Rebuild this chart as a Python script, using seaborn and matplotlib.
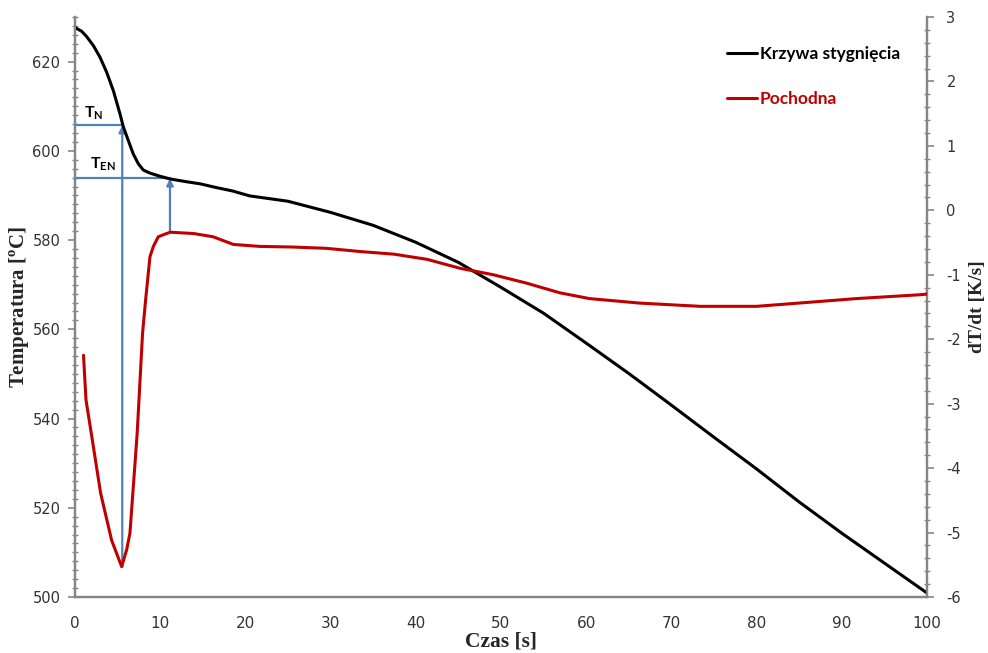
import numpy as np
import pandas as pd
import matplotlib
matplotlib.use("Agg")
import matplotlib.pyplot as plt
from matplotlib.ticker import MultipleLocator
from matplotlib.lines import Line2D
import seaborn as sns

# ---- data ----
time_T = [0, 0.12, 0.78, 1.37, 2.15, 2.93, 3.72, 4.5, 5.28, 5.67, 6.26, 6.84, 7.43, 8.02, 8.8,
          9.98, 11.15, 13, 14.7, 16.5, 18.5, 20.5, 25, 30, 35, 40, 45, 50, 55, 60, 65, 70, 75,
          80, 85, 90, 95, 100]
temp = [627.7, 627.5, 626.8, 625.6, 623.6, 621.0, 617.6, 613.5, 608.3, 605.4, 602.3, 599.3,
        597.1, 595.7, 595.0, 594.3, 593.7, 593.1, 592.6, 591.8, 591.0, 589.9, 588.7, 586.2,
        583.3, 579.5, 575.0, 569.4, 563.6, 556.9, 550.1, 543.0, 535.8, 528.7, 521.3, 514.3,
        507.6, 500.9]

time_d = [1, 1.29, 2.03, 3.01, 4.3, 5.48, 6.06, 6.45, 7.3, 7.93, 8.29, 8.8, 9.2, 9.78, 10.75,
          11.2, 13.9, 16.2, 18.6, 21.7, 25.6, 29.5, 33.5, 37.4, 41.3, 45.2, 49.1, 53, 56.9,
          60.4, 66.3, 73.4, 80, 85.9, 91.7, 99.2, 100]
deriv = [-2.25, -2.94, -3.56, -4.39, -5.12, -5.53, -5.27, -5.01, -3.46, -1.91, -1.39, -0.72,
         -0.56, -0.41, -0.36, -0.34, -0.36, -0.41, -0.53, -0.56, -0.57, -0.59, -0.64, -0.68,
         -0.76, -0.90, -1.00, -1.13, -1.28, -1.37, -1.44, -1.49, -1.49, -1.43, -1.37, -1.31,
         -1.30]

t_N, T_N, dmin = 5.55, 605.7, -5.53
t_EN, T_EN, d_EN = 11.15, 593.8, -0.34

x_ticks = list(range(0, 101, 10))
left_ticks = list(range(500, 621, 20))
right_ticks = list(range(-6, 4))

label_T = "Krzywa stygnięcia"
label_d = "Pochodna"

df_T = pd.DataFrame({"t": time_T, "T": temp})
df_d = pd.DataFrame({"t": time_d, "d": deriv})

sns.set_style("white")
plt.rcParams['font.family'] = ['DejaVu Sans']

fig = plt.figure(figsize=(9.88, 6.53), dpi=100)
ax = fig.add_axes([0.0759, 0.0858, 0.8623, 0.8882])
ax2 = ax.twinx()

blue = "#4F81BD"
red = "#C00000"
grey = "#868686"

sns.lineplot(data=df_T, x="t", y="T", ax=ax, color="black", linewidth=2.2, zorder=5)
sns.lineplot(data=df_d, x="t", y="d", ax=ax2, color=red, linewidth=2.2, zorder=5)

ax.set_xlim(0, 100)
ax.set_ylim(500, 630)
ax2.set_ylim(-6, 3)

# blue guide lines
ymin_left = 500 + (dmin + 6) * 130 / 9
ax.plot([0, t_N], [T_N, T_N], color=blue, lw=1.6, zorder=3)
ax.annotate("", xy=(t_N, T_N), xytext=(t_N, ymin_left),
            arrowprops=dict(arrowstyle="-|>", color=blue, lw=1.6, mutation_scale=10,
                            shrinkA=0, shrinkB=0), zorder=3)
yen_left = 500 + (d_EN + 6) * 130 / 9
ax.plot([0, t_EN], [T_EN, T_EN], color=blue, lw=1.6, zorder=3)
ax.annotate("", xy=(t_EN, T_EN), xytext=(t_EN, yen_left),
            arrowprops=dict(arrowstyle="-|>", color=blue, lw=1.6, mutation_scale=10,
                            shrinkA=0, shrinkB=0), zorder=3)

ax.text(1.0, 607.5, r"T$_\mathregular{N}$", fontsize=11.5, fontweight="bold",
        family=["Lato", "DejaVu Sans"], color="black")
ax.text(1.8, 596.0, r"T$_\mathregular{EN}$", fontsize=11.5, fontweight="bold",
        family=["Lato", "DejaVu Sans"], color="black")

# ticks
ax.set_xticks(x_ticks)
ax.set_yticks(left_ticks)
ax2.set_yticks(right_ticks)
ax.xaxis.set_minor_locator(MultipleLocator(1))
ax.yaxis.set_minor_locator(MultipleLocator(2))
ax2.yaxis.set_minor_locator(MultipleLocator(0.2))

ax.set_xticklabels([str(v) for v in x_ticks], family=["Liberation Sans Narrow", "DejaVu Sans"],
                   fontsize=11, color="#333333")
ax.set_yticklabels([str(v) for v in left_ticks], fontsize=10.5, color="#333333")
ax2.set_yticklabels([str(v) for v in right_ticks], fontsize=10.5, color="#333333")

ax.tick_params(axis="x", which="major", direction="in", length=5, width=1.2, color=grey, pad=14)
ax.tick_params(axis="x", which="minor", direction="in", length=3, width=1, color=grey)
ax.tick_params(axis="y", which="major", direction="out", length=5, width=1.2, color=grey, pad=5.5)
ax.tick_params(axis="y", which="minor", direction="inout", length=5, width=1, color=grey, left=True)
ax2.tick_params(axis="y", which="major", direction="out", length=5, width=1.2, color=grey, pad=9)
ax2.tick_params(axis="y", which="minor", direction="inout", length=5, width=1, color=grey, right=True)

for a in (ax, ax2):
    a.spines["top"].set_visible(False)
    for s in ("left", "right", "bottom"):
        a.spines[s].set_color(grey)
        a.spines[s].set_linewidth(1.6)

serif = ["Liberation Serif", "DejaVu Serif"]
ax.set_xlabel("Czas [s]", family=serif, fontsize=15.5, fontweight="bold", labelpad=0)
ax.set_ylabel(r"Temperatura [$^\mathregular{o}$C]", family=serif, fontsize=15,
              fontweight="bold")
ax2.set_ylabel("dT/dt [K/s]", family=serif, fontsize=14, fontweight="bold",
               rotation=90)
ax.yaxis.set_label_coords((32 - 75) / 852, 0.5)
ax2.yaxis.set_label_coords((969 - 75) / 852, 0.5)

# legend
handles = [Line2D([], [], color="black", lw=2.2), Line2D([], [], color=red, lw=2.2)]
leg = ax2.legend(handles, [label_T, label_d], loc="upper right",
                 bbox_to_anchor=(0.987, 0.977), frameon=False, handlelength=1.75,
                 handletextpad=0.15, labelspacing=1.7,
                 prop=dict(family=["Lato", "DejaVu Sans"], weight="bold", size=12.5))
leg.get_texts()[0].set_color("black")
leg.get_texts()[1].set_color(red)

fig.savefig("out.png", dpi=100)
